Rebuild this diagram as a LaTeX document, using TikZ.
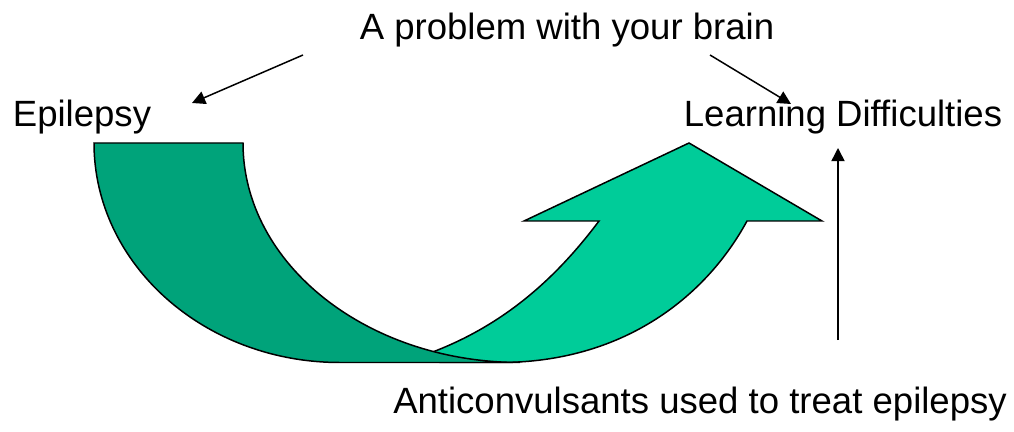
\documentclass[tikz,border=0pt]{standalone}
\usepackage{fontspec}
\setmainfont{Liberation Sans}
\usetikzlibrary{arrows.meta}
\definecolor{darkband}{RGB}{0,163,122}
\definecolor{lightband}{RGB}{0,204,153}
\tikzset{
  lbl/.style={inner sep=0pt, anchor=base, font=\fontsize{20.8}{25}\selectfont},
  band/.style={draw=black, line width=0.85pt, line join=miter},
  pointer/.style={draw=black, line width=0.85pt, -{Triangle[length=7.5pt, width=7.5pt]}}
}
\begin{document}
\begin{tikzpicture}[x=0.02cm, y=-0.02cm]
\useasboundingbox (0,0) rectangle (1014,432);
% light rising arrow (drawn first)
\path[band, fill=lightband] (430,353) .. controls (505,325) and (557,277) .. (599,221)
  -- (524,221) -- (689,143) -- (822,221) -- (747,221)
  .. controls (704,300) and (620,362.5) .. (500,362.5) -- (440,362.5) -- cycle;
% dark falling band (on top)
\path[band, fill=darkband] (94,143) .. controls (94,264) and (204,362.5) .. (340,362.5)
  -- (520,362.5) .. controls (367,362.5) and (243,264) .. (243,143) -- cycle;
% texts
\node[lbl] (brain) at (567,40) {A problem with your brain};
\node[lbl] (epi) at (82,127) {Epilepsy};
\node[lbl] (ld) at (843,127) {Learning Difficulties};
\node[lbl] (anti) at (700,413) {Anticonvulsants used to treat epilepsy};
% connector end points
\coordinate (b1) at (303,55);
\coordinate (e1) at (192,103);
\coordinate (b2) at (710,55);
\coordinate (e2) at (791,104);
\coordinate (a1) at (838,340);
\coordinate (a2) at (838,148);
\draw[pointer] (b1) -- (e1);
\draw[pointer] (b2) -- (e2);
\draw[pointer] (a1) -- (a2);
\end{tikzpicture}
\end{document}
